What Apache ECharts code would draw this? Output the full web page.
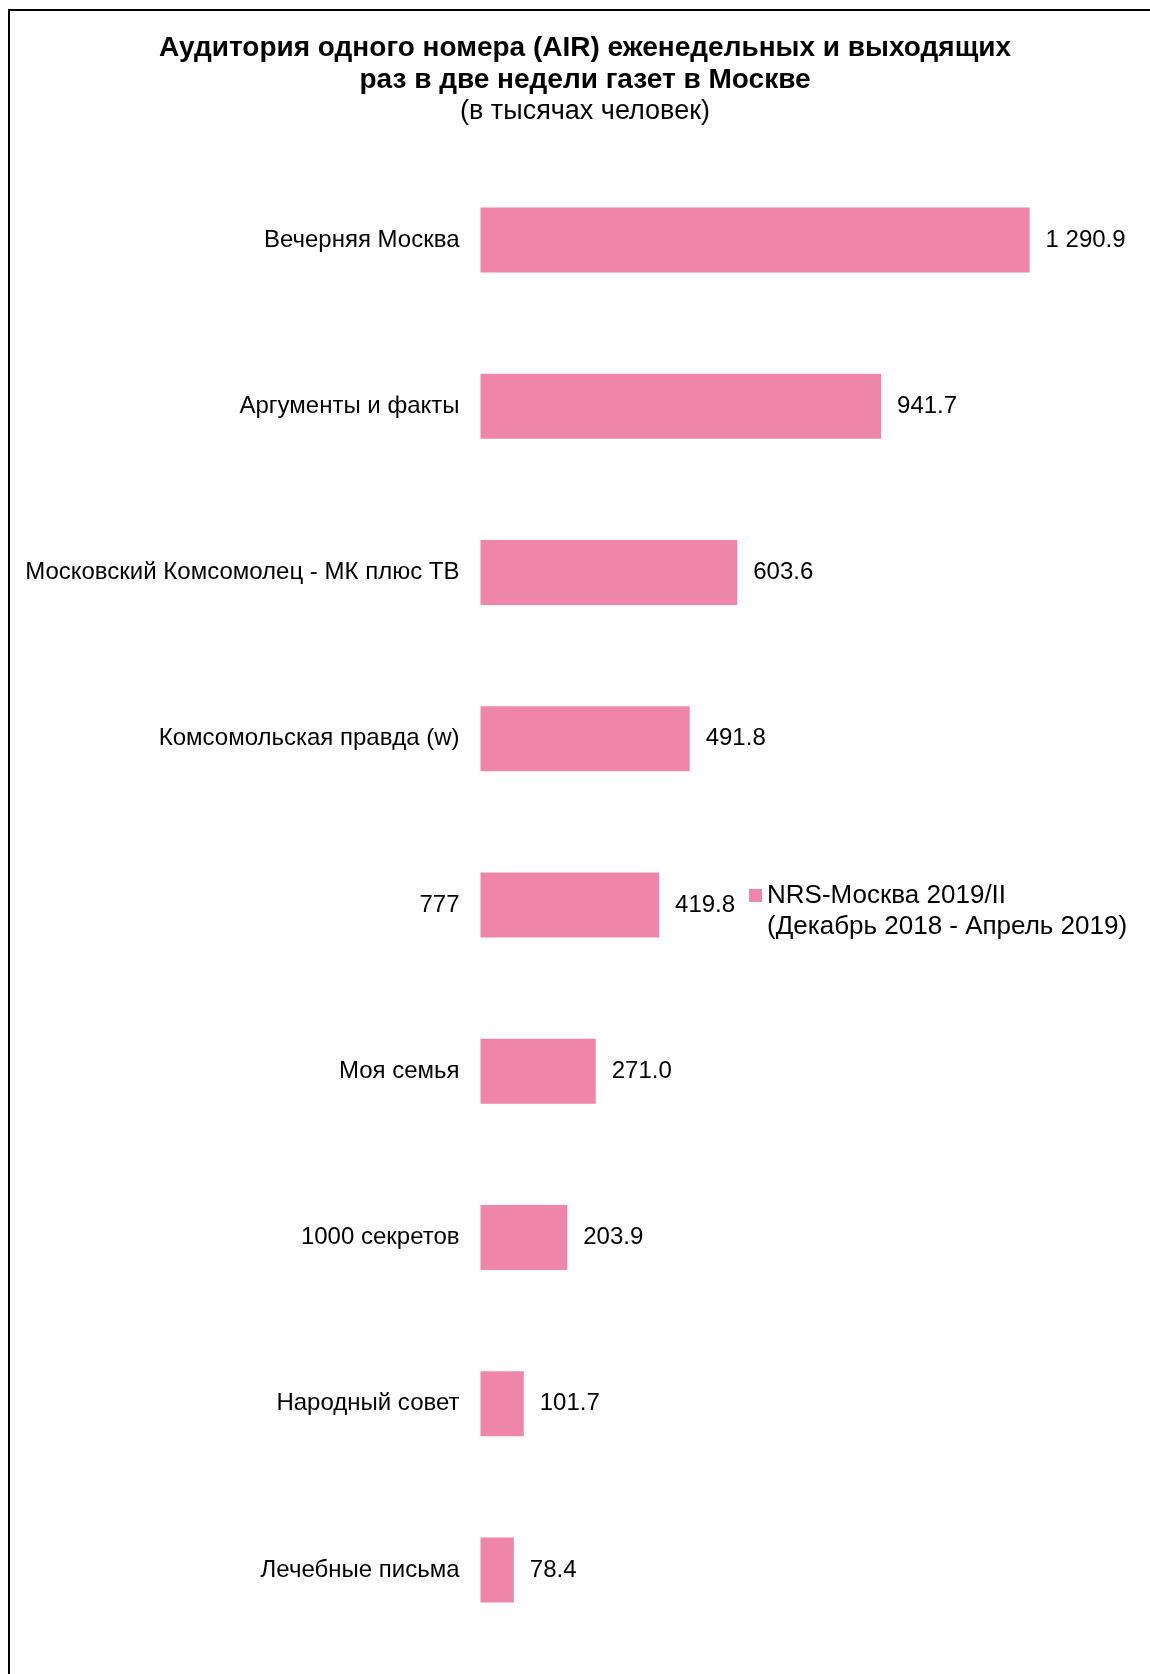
<!DOCTYPE html>
<html>
<head>
<meta charset="utf-8">
<script src="https://cdn.jsdelivr.net/npm/echarts@6/dist/echarts.min.js"></script>
<style>
  html, body { margin: 0; padding: 0; background: #fff; }
  #chart { width: 1150px; height: 1674px; }
</style>
</head>
<body>
<div id="chart"></div>
<script>
const categories = [
  'Вечерняя Москва',
  'Аргументы и факты',
  'Московский Комсомолец - МК плюс ТВ',
  'Комсомольская правда (w)',
  '777',
  'Моя семья',
  '1000 секретов',
  'Народный совет',
  'Лечебные письма'
]
const audience = [1290.9, 941.7, 603.6, 491.8, 419.8, 271.0, 203.9, 101.7, 78.4]
const seriesName = 'NRS-Москва 2019/II'
const seriesPeriod = '(Декабрь 2018 - Апрель 2019)'
const titleLines = [
  'Аудитория одного номера (AIR) еженедельных и выходящих',
  'раз в две недели газет в Москве'
]
const subtitle = '(в тысячах человек)'

const fontFamily = '"Liberation Sans", Arial, sans-serif'

const formatValue = (v) => {
  const s = v.toFixed(1)
  const [int, dec] = s.split('.')
  return int.replace(/\B(?=(\d{3})+(?!\d))/g, ' ') + '.' + dec
}

const titleText = (text, y, font) => ({
  type: 'text',
  x: 585,
  y: y,
  silent: true,
  style: {
    text: text,
    font: font,
    fill: '#000',
    align: 'center',
    verticalAlign: 'middle'
  }
})

const myChart = echarts.init(document.getElementById('chart'))

const option = {
  animation: false,
  color: ['#ef86a9'],
  textStyle: { fontFamily: fontFamily },
  legend: {
    left: 744,
    top: 844,
    icon: 'rect',
    itemWidth: 13,
    itemHeight: 13,
    data: [seriesName],
    formatter: (name) => '\n' + name + '\n' + seriesPeriod,
    textStyle: {
      fontSize: 26,
      color: '#000',
      lineHeight: 31,
      fontFamily: fontFamily
    }
  },
  graphic: [
    {
      type: 'rect',
      shape: { x: 9, y: 10, width: 1300, height: 1800 },
      style: { fill: 'none', stroke: '#000', lineWidth: 2 },
      silent: true
    },
    titleText(titleLines[0], 48, 'bold 28px ' + fontFamily),
    titleText(titleLines[1], 80, 'bold 28px ' + fontFamily),
    titleText(subtitle, 112, '27px ' + fontFamily)
  ],
  grid: {
    left: 480.5,
    top: 157,
    width: 638,
    height: 1496
  },
  xAxis: {
    type: 'value',
    min: 0,
    max: 1500,
    show: false
  },
  yAxis: {
    type: 'category',
    inverse: true,
    data: categories,
    axisLine: { show: false },
    axisTick: { show: false },
    axisLabel: {
      margin: 21,
      fontSize: 24,
      color: '#000',
      padding: [8, 0, 0, 0],
      fontFamily: fontFamily
    }
  },
  series: [{
    name: seriesName,
    type: 'bar',
    data: audience,
    barWidth: 65,
    label: {
      show: true,
      position: 'right',
      distance: 16,
      fontSize: 24,
      color: '#000',
      padding: [8, 0, 0, 0],
      fontFamily: fontFamily,
      formatter: (p) => formatValue(p.value)
    }
  }]
}

myChart.setOption(option)
</script>
</body>
</html>
